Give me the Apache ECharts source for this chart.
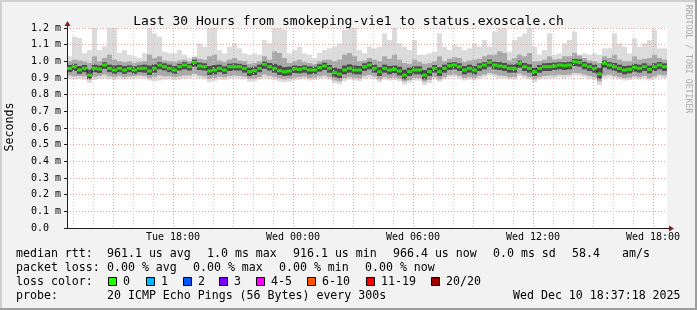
<!DOCTYPE html>
<html><head><meta charset="utf-8">
<script src="https://cdn.jsdelivr.net/npm/echarts@6/dist/echarts.min.js"></script>
<style>html,body{margin:0;padding:0;background:#f2f2f2}#c{width:697px;height:310px}</style>
</head><body><div id="c"></div>
<script>
// ---------------- data ----------------
const START_H = 12.7;   // Tue 12:42 (hours since Tue 00:00)
const STEP_H = 0.25;    // 15 minute steps
// median rtt (microseconds)
const medianUs = [958,968,948,958,918,958,954,978,958,948,
 958,948,958,948,958,958,942,958,978,968,
 958,948,968,978,968,994,972,968,942,948,
 958,948,968,968,968,958,938,944,958,982,
 968,958,944,938,942,956,952,958,948,948,
 962,972,958,932,924,948,958,948,948,968,
 978,958,938,958,948,952,942,918,938,948,
 948,918,938,958,938,958,974,978,968,948,
 958,948,968,978,994,978,972,968,958,958,
 988,968,958,938,958,968,968,972,978,974,
 978,998,994,978,968,958,924,988,978,968,
 958,948,952,964,958,968,952,968,978,968];
// slowest ping of each step (outer smoke, top)
const maxUs = [1030,1148,1140,1050,1068,1210,1068,1090,1220,1205,
 1050,1068,1040,1030,1020,1050,1230,1168,1148,1058,
 1050,1048,1068,1040,1020,1030,1108,1088,1220,1210,
 1068,1048,1088,1108,1078,1048,1040,1048,1040,1128,
 1108,1240,1220,1190,1048,1068,1088,1048,1040,1020,
 1050,1068,1078,1088,1108,1190,1210,1200,1068,1048,
 1088,1078,1088,1168,1128,1210,1108,1088,1068,1128,
 1040,1040,1048,1058,1168,1088,1068,1098,1088,1068,
 1078,1108,1088,1128,1088,1178,1220,1205,1058,1128,
 1148,1168,1230,1088,1040,1068,1168,1040,1048,1108,
 1128,1178,1040,1048,1040,1048,1040,1078,1078,1168,
 1108,1088,1048,1138,1088,1108,1128,1190,1078,1078];
// fastest ping of each step (outer smoke, bottom)
const minUs = [900,892,895,890,870,888,895,900,892,888,
 895,890,893,896,900,898,885,880,885,890,
 893,887,890,895,900,905,898,892,875,882,
 890,888,895,900,898,892,878,880,890,900,
 895,888,880,875,878,885,890,893,885,888,
 895,900,890,868,862,880,890,885,882,895,
 900,892,875,890,885,888,880,860,872,885,
 884,858,870,892,878,892,905,905,898,885,
 890,885,895,905,915,905,900,898,892,890,
 910,900,890,875,890,895,898,900,905,900,
 905,915,912,905,895,890,858,900,905,898,
 892,885,888,895,890,898,885,895,905,900];
// middle smoke band
const midHiUs = [1000,1010,1005,998,990,1030,1000,1020,1040,1010,
 1000,995,1000,990,995,1000,1040,1020,1030,1005,
 1000,995,1005,1010,1000,1025,1015,1010,1030,1040,
 1005,995,1010,1020,1005,1000,985,990,1000,1030,
 1010,1060,1050,1020,990,1000,1010,995,990,985,
 1000,1010,1010,1000,1010,1040,1050,1030,1000,1005,
 1020,1010,1000,1030,1015,1040,1010,990,985,1010,
 995,985,990,1000,1030,1000,1015,1025,1020,995,
 1005,1010,1015,1030,1040,1040,1060,1050,1005,1020,
 1040,1030,1050,1000,1000,1010,1030,1010,1015,1030,
 1030,1050,1035,1020,1005,1000,990,1030,1020,1040,
 1010,1000,1000,1030,1010,1015,1020,1040,1020,1010];
const midLoUs = [915,910,912,910,890,905,912,920,910,905,
 912,905,910,912,915,912,900,905,915,910,
 910,905,910,915,915,925,915,910,895,900,
 908,905,912,915,912,908,895,895,905,920,
 912,905,898,892,895,902,905,908,900,902,
 910,915,905,885,880,898,905,900,898,912,
 918,908,892,905,900,902,895,880,888,900,
 900,878,888,905,892,905,918,920,912,900,
 905,900,912,920,930,922,915,912,905,905,
 925,915,905,892,905,912,915,915,920,918,
 920,930,928,920,912,905,880,915,920,912,
 905,900,902,910,905,912,900,910,920,915];
// dense core of the smoke
const coreHiUs = [978,985,972,978,950,980,975,995,980,975,
 978,972,976,970,976,980,975,982,995,988,
 980,972,985,995,985,1010,992,988,972,978,
 980,970,986,988,985,978,962,968,980,1000,
 990,985,975,965,968,975,972,976,970,968,
 982,992,978,962,955,975,982,975,972,988,
 998,980,965,980,972,975,968,950,962,970,
 970,948,962,978,965,980,992,995,988,972,
 980,972,988,995,1010,998,995,990,980,982,
 1005,990,982,962,978,988,990,992,995,994,
 998,1015,1012,998,988,980,960,1005,996,990,
 980,972,975,985,980,988,975,988,996,988];
const coreLoUs = [935,942,925,935,895,935,930,955,935,925,
 935,925,935,925,935,932,918,932,952,945,
 935,925,945,952,945,968,948,945,918,922,
 935,925,942,945,945,932,912,918,935,955,
 945,932,918,912,915,930,928,932,922,925,
 938,948,932,905,898,922,932,922,922,942,
 952,932,912,932,922,928,915,892,912,922,
 922,892,912,932,912,932,948,952,942,922,
 932,922,942,952,968,952,948,942,932,932,
 962,942,932,912,932,942,942,948,952,948,
 952,972,968,952,942,932,895,962,952,942,
 932,922,928,938,932,942,928,942,952,942];

const xTickHours = [18, 24, 30, 36, 42];
const xTickLabels = ['Tue 18:00', 'Wed 00:00', 'Wed 06:00', 'Wed 12:00', 'Wed 18:00'];
const yTickLabels = ['0.0', '0.1 m', '0.2 m', '0.3 m', '0.4 m', '0.5 m', '0.6 m',
                     '0.7 m', '0.8 m', '0.9 m', '1.0 m', '1.1 m', '1.2 m'];
const titleText = 'Last 30 Hours from smokeping-vie1 to status.exoscale.ch';
const rttStats = ['median rtt:', '961.1 us avg', '1.0 ms max', '916.1 us min', '966.4 us now', '0.0 ms sd', '58.4', 'am/s'];
const lossStats = ['packet loss:', '0.00 % avg', '0.00 % max', '0.00 % min', '0.00 % now'];
const lossHead = 'loss color:';
const lossLabels = ['0', '1', '2', '3', '4-5', '6-10', '11-19', '20/20'];
const lossColors = ['#26ff00', '#00b8ff', '#0059ff', '#7e00ff', '#ff00ff', '#ff5500', '#ff0000', '#a10000'];
const probeText = ['probe:', '20 ICMP Echo Pings (56 Bytes) every 300s', 'Wed Dec 10 18:37:18 2025'];

// ---------------- layout ----------------
const MONO = "'DejaVu Sans Mono', monospace";
const PL = 67, PT = 28, PW = 600, PH = 200;
const categories = medianUs.map((_, i) => (START_H + i * STEP_H).toFixed(2));
const ms = a => a.map(v => v / 1000);

function band(name, lo, hi, color) {
  return [
    {type: 'bar', stack: name, data: ms(lo), itemStyle: {color: 'rgba(0,0,0,0)'},
     barGap: '-100%', barCategoryGap: '0%', silent: true, z: 2},
    {type: 'bar', stack: name, data: hi.map((v, i) => (v - lo[i]) / 1000), itemStyle: {color: color},
     barGap: '-100%', barCategoryGap: '0%', silent: true, z: 2}
  ];
}

const hourAxis = (step, split, z) => ({
  type: 'value', gridIndex: 0, position: 'bottom',
  min: START_H, max: START_H + 30, minInterval: step, maxInterval: step,
  z: z,
  axisLine: {show: false}, axisTick: {show: false}, axisLabel: {show: false},
  splitLine: split
});

const texts = [];
function txt(s, x, y, opt) {
  texts.push(Object.assign({type: 'text', x: x, y: y, silent: true, z: 50,
    style: {text: s, font: '11.6px ' + MONO, fill: '#000', align: 'left', verticalAlign: 'middle'}}, opt || {}));
}
// legend rows
const rttX = [16, 107, 207, 293, 393, 493, 572, 622];
rttStats.forEach((s, i) => txt(s, rttX[i], 254));
const lossX = [16, 107, 193, 279, 365];
lossStats.forEach((s, i) => txt(s, lossX[i], 267.5));
txt(lossHead, 16, 282);
const boxX = [108, 146, 183, 219, 256, 307, 366, 431];
lossLabels.forEach((s, i) => {
  texts.push({type: 'rect', silent: true, z: 50,
    shape: {x: boxX[i] + 0.5, y: 277.5, width: 8, height: 8},
    style: {fill: lossColors[i], stroke: '#000', lineWidth: 1}});
  txt(s, boxX[i] + 15, 282);
});
txt(probeText[0], 16, 296);
txt(probeText[1], 107, 296);
txt(probeText[2], 513, 296);
// axis titles / watermark
texts.push({type: 'text', x: 10, y: 127, rotation: Math.PI / 2, silent: true, z: 50,
  style: {text: 'Seconds', font: '11.6px ' + MONO, fill: '#000', align: 'center', verticalAlign: 'middle'}});
texts.push({type: 'text', x: 688.5, y: 59, rotation: -Math.PI / 2, silent: true, z: 50,
  style: {text: 'RRDTOOL / TOBI OETIKER', font: '8.2px ' + MONO, fill: '#ababab', align: 'center', verticalAlign: 'middle'}});
// frame shading
const frame = [
  {type: 'rect', silent: true, z: 0, shape: {x: 0, y: 0, width: 697, height: 2}, style: {fill: '#cfcfcf'}},
  {type: 'rect', silent: true, z: 0, shape: {x: 0, y: 0, width: 2, height: 310}, style: {fill: '#cfcfcf'}},
  {type: 'rect', silent: true, z: 0, shape: {x: 0, y: 308, width: 697, height: 2}, style: {fill: '#9e9e9e'}},
  {type: 'rect', silent: true, z: 0, shape: {x: 695, y: 0, width: 2, height: 310}, style: {fill: '#9e9e9e'}},
  // axis extensions and arrows
  {type: 'line', silent: true, z: 60, shape: {x1: PL + 0.5, y1: PT, x2: PL + 0.5, y2: PT - 3}, style: {stroke: '#1f1f1f', lineWidth: 1}},
  {type: 'polygon', silent: true, z: 60, shape: {points: [[PL - 2.5, PT - 2], [PL + 3.5, PT - 2], [PL + 0.5, PT - 7]]}, style: {fill: '#7f1f1f'}},
  {type: 'line', silent: true, z: 60, shape: {x1: PL + PW, y1: PT + PH + 0.5, x2: PL + PW + 3, y2: PT + PH + 0.5}, style: {stroke: '#1f1f1f', lineWidth: 1}},
  {type: 'polygon', silent: true, z: 60, shape: {points: [[PL + PW + 2, PT + PH - 2.5], [PL + PW + 2, PT + PH + 3.5], [PL + PW + 7, PT + PH + 0.5]]}, style: {fill: '#7f1f1f'}}
];

const chart = echarts.init(document.getElementById('c'), null, {renderer: 'canvas'});
chart.setOption({
  animation: false,
  backgroundColor: '#f2f2f2',
  title: {text: titleText, left: 'center', top: 10,
    textStyle: {fontFamily: MONO, fontSize: 13, fontWeight: 'normal', color: '#000'}},
  grid: {left: PL, top: PT, width: PW, height: PH, show: true, backgroundColor: '#ffffff', borderWidth: 0},
  xAxis: [
    {type: 'category', data: categories, boundaryGap: true, show: false},
    hourAxis(1, {show: true, showMinLine: false, showMaxLine: false,
      lineStyle: {color: '#cdcdcd', width: 1, type: [1, 2]}}, 3),
    hourAxis(3, {show: true, showMinLine: false, showMaxLine: false,
      lineStyle: {color: '#eba0a0', width: 1, type: [1, 2]}}, 4),
    {type: 'value', gridIndex: 0, position: 'bottom',
      min: START_H, max: START_H + 30, minInterval: 6, maxInterval: 6, z: 5,
      axisLine: {show: true, lineStyle: {color: '#1f1f1f', width: 1}},
      axisTick: {show: false},
      splitLine: {show: false},
      axisLabel: {show: true, showMinLabel: false, showMaxLabel: false, margin: 4,
        fontFamily: MONO, fontSize: 10, color: '#000',
        formatter: v => { const k = xTickHours.indexOf(Math.round(v)); return k >= 0 ? xTickLabels[k] : ''; }}}
  ],
  yAxis: [{
    type: 'value', min: 0, max: 1.2, interval: 0.1, z: 4,
    axisLine: {show: true, lineStyle: {color: '#1f1f1f', width: 1}},
    axisTick: {show: true, length: 3, lineStyle: {color: '#1f1f1f'}},
    axisLabel: {margin: 6, fontFamily: MONO, fontSize: 10, color: '#000',
      formatter: v => { const k = Math.round(v * 10); return k === 0 ? yTickLabels[0] + '  ' : yTickLabels[k]; }},
    splitLine: {show: true, lineStyle: {color: '#eba0a0', width: 1, type: [1, 2]}}
  }],
  series: [].concat(
    band('outer', minUs, maxUs, '#dcdcdc'),
    band('mid', midLoUs, midHiUs, '#a9a9a9'),
    band('core', coreLoUs, coreHiUs, '#4e4e4e'),
    [
      {type: 'line', data: ms(medianUs), step: 'middle', showSymbol: false, silent: true, z: 6,
        lineStyle: {color: '#202020', width: 1}},
      {type: 'scatter', data: ms(medianUs), symbol: 'rect', symbolSize: [5, 3], silent: true, z: 7,
        itemStyle: {color: lossColors[0]}}
    ]
  ),
  graphic: frame.concat(texts)
});
</script></body></html>
